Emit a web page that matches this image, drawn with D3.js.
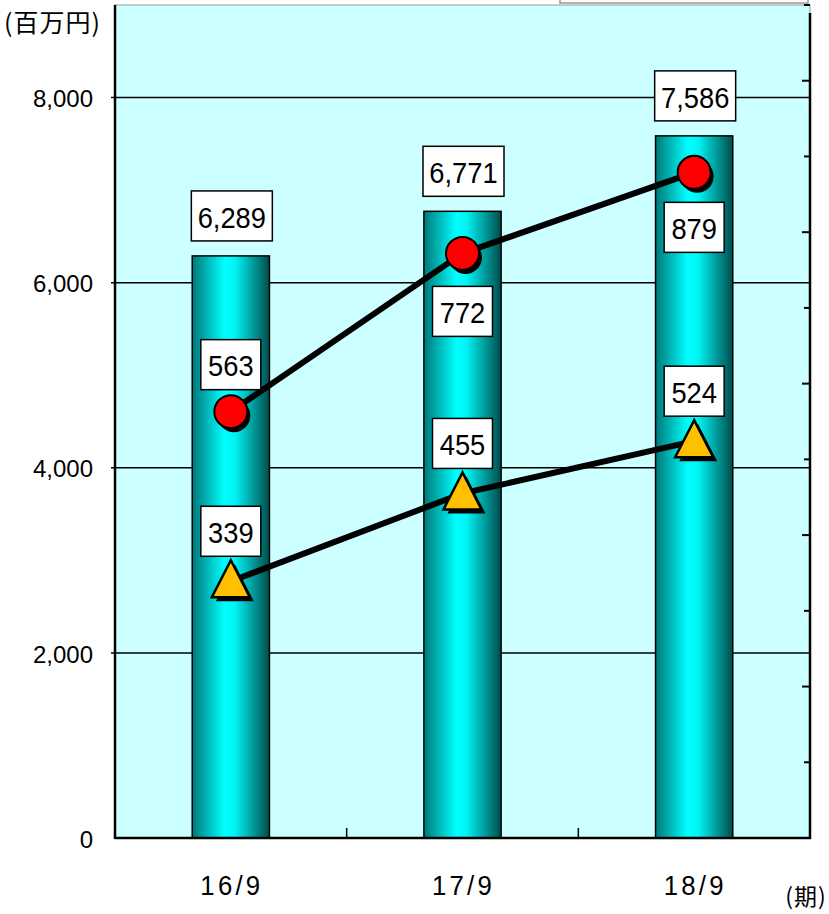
<!DOCTYPE html>
<html><head><meta charset="utf-8">
<script src="https://cdn.jsdelivr.net/npm/d3@7/dist/d3.min.js"></script>
<style>body{margin:0;background:#fff;}svg{display:block;}</style>
</head><body>
<script>
const categories = ["16/9", "17/9", "18/9"];
const barValues = [6289, 6771, 7586];
const circleValues = [563, 772, 879];
const triangleValues = [339, 455, 524];
const leftTicks = [0, 2000, 4000, 6000, 8000];

const W = 829, H = 914;
const L = 115, R = 810, T = 5, B = 838;
const font = "'Liberation Sans',Arial,sans-serif";
const cjk = "'Noto Sans CJK JP',sans-serif";

const svg = d3.select("body").append("svg").attr("width", W).attr("height", H);
const defs = svg.append("defs");
const g = defs.append("linearGradient").attr("id", "barg").attr("x1", "0%").attr("x2", "100%").attr("y1", "0%").attr("y2", "0%");
[[0, "#007878"], [0.42, "#00ffff"], [0.55, "#00f4f4"], [1, "#004c4c"]].forEach(([o, c]) => g.append("stop").attr("offset", o).attr("stop-color", c));

const x = d3.scaleBand().domain(categories).range([L, R]).paddingInner(0).paddingOuter(0);
const yL = d3.scaleLinear().domain([0, 9000]).range([B, T]);
const yR = d3.scaleLinear().domain([0, 1100]).range([B, T]);

// text helper
function ntext(parent, xp, yp, txt, size, anchor, sx, fam, ls) {
  return parent.append("text")
    .attr("transform", `translate(${xp},${yp}) scale(${sx},1)`)
    .attr("text-anchor", anchor).attr("dy", "0.36em")
    .attr("letter-spacing", ls || 0)
    .attr("font-family", fam || font).attr("font-size", size).text(txt);
}

// legend box remnant at top
svg.append("rect").attr("x", 560).attr("y", -20).attr("width", 248).attr("height", 23).attr("fill", "#fff").attr("stroke", "#999").attr("stroke-width", 1.5);

// plot background
svg.append("rect").attr("x", L).attr("y", T).attr("width", R - L).attr("height", B - T).attr("fill", "#ccffff").attr("stroke", "#999").attr("stroke-width", 1);

// gridlines
svg.append("g").selectAll("line").data(leftTicks.filter(d => d > 0)).join("line")
  .attr("x1", L - 4).attr("x2", R).attr("y1", d => yL(d)).attr("y2", d => yL(d))
  .attr("stroke", "#000").attr("stroke-width", 1.5);

// bars
const bw = x.bandwidth() / 3;
svg.append("g").selectAll("rect").data(barValues).join("rect")
  .attr("x", (d, i) => x(categories[i]) + x.bandwidth() / 2 - bw / 2)
  .attr("y", d => yL(d)).attr("width", bw).attr("height", d => B - yL(d))
  .attr("fill", "url(#barg)").attr("stroke", "#000").attr("stroke-width", 1.5);

// axes lines
svg.append("line").attr("x1", L).attr("x2", L).attr("y1", T).attr("y2", B + 1).attr("stroke", "#000").attr("stroke-width", 2.5);
svg.append("line").attr("x1", R).attr("x2", R).attr("y1", T + 8).attr("y2", B + 1).attr("stroke", "#000").attr("stroke-width", 2.5);
svg.append("line").attr("x1", L).attr("x2", R + 1).attr("y1", B).attr("y2", B).attr("stroke", "#000").attr("stroke-width", 2.5);

// right axis ticks
const rt = d3.range(0, 1101, 100);
svg.append("g").selectAll("line").data(rt).join("line")
  .attr("x1", d => d % 200 === 0 ? R - 8 : R - 6).attr("x2", R)
  .attr("y1", d => yR(d)).attr("y2", d => yR(d)).attr("stroke", "#000").attr("stroke-width", 2);

// bottom axis category ticks
svg.append("g").selectAll("line").data(categories.slice(1)).join("line")
  .attr("x1", d => x(d)).attr("x2", d => x(d)).attr("y1", B - 10).attr("y2", B)
  .attr("stroke", "#000").attr("stroke-width", 1.5);

// left tick labels
const lt = svg.append("g");
leftTicks.forEach(d => ntext(lt, 93, yL(d) + 1, d3.format(",")(d), 24, "end", 1.0));

ntext(svg, 4, 23, "(百万円)", 25, "start", 1.0, cjk, 1);

// category labels
const cl = svg.append("g");
categories.forEach(d => ntext(cl, x(d) + x.bandwidth() / 2 + 1, 885, d, 28, "middle", 0.92, font, 3.5));
ntext(svg, 806, 897, "(期)", 23, "middle", 1.0, cjk, 1);

const cx = i => x(categories[i]) + x.bandwidth() / 2;
const line = d3.line();

// lines
svg.append("path").attr("d", line(circleValues.map((d, i) => [cx(i), yR(d)])))
  .attr("fill", "none").attr("stroke", "#000").attr("stroke-width", 6);
svg.append("path").attr("d", line(triangleValues.map((d, i) => [cx(i), yR(d)])))
  .attr("fill", "none").attr("stroke", "#000").attr("stroke-width", 6);

// circles
const cg = svg.append("g").selectAll("g").data(circleValues).join("g")
  .attr("transform", (d, i) => `translate(${cx(i)},${yR(d)})`);
cg.append("circle").attr("cx", 3).attr("cy", 4).attr("r", 16.5).attr("fill", "#000");
cg.append("circle").attr("r", 16.5).attr("fill", "#ff0000").attr("stroke", "#000").attr("stroke-width", 2);

// triangles
const tri = "M0,-21 L19,16 L-19,16 Z";
const tg = svg.append("g").selectAll("g").data(triangleValues).join("g")
  .attr("transform", (d, i) => `translate(${cx(i)},${yR(d)})`);
tg.append("path").attr("d", tri).attr("transform", "translate(4,4)").attr("fill", "#000");
tg.append("path").attr("d", tri).attr("fill", "#ffc000").attr("stroke", "#000").attr("stroke-width", 2.5);

// label boxes
function label(xc, yc, w, txt) {
  const gg = svg.append("g");
  gg.append("rect").attr("x", xc - w / 2).attr("y", yc - 25).attr("width", w).attr("height", 50)
    .attr("fill", "#fff").attr("stroke", "#000").attr("stroke-width", 1.5);
  ntext(gg, xc, yc + 1, txt, 30, "middle", 0.91);
}
barValues.forEach((d, i) => label(cx(i) + 1, yL(d) - 40, 81, d3.format(",")(d)));
const cOff = [-47, 58, 55];
circleValues.forEach((d, i) => label(cx(i), yR(d) + cOff[i], 60, d));
triangleValues.forEach((d, i) => label(cx(i), yR(d) - 50, 60, d));
</script>
</body></html>
